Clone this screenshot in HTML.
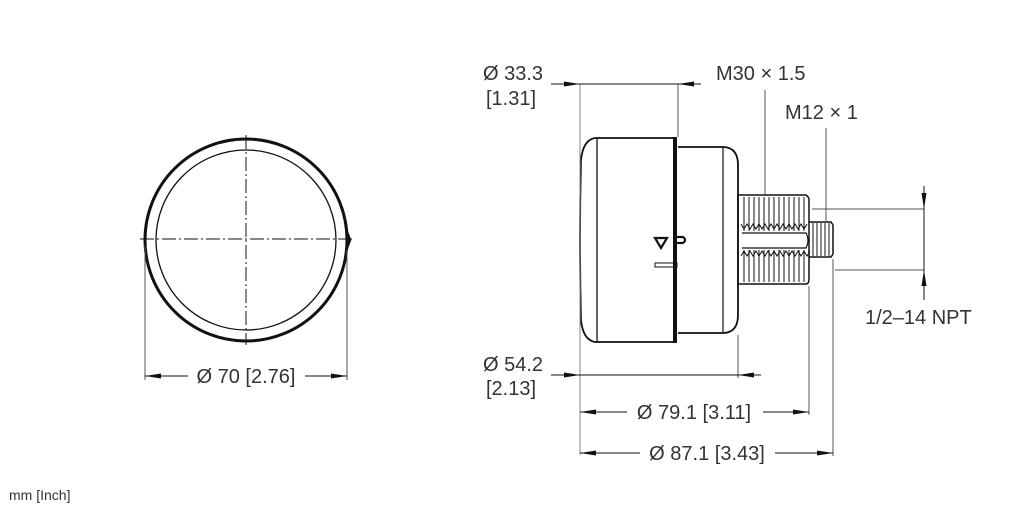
<!DOCTYPE html>
<html><head><style>body{margin:0;background:#fff}svg{display:block}text{font-family:"Liberation Sans",sans-serif;fill:#333}</style></head><body>
<svg width="1022" height="511" viewBox="0 0 1022 511" xmlns="http://www.w3.org/2000/svg">
<defs><marker id="a" markerWidth="16" markerHeight="8" refX="16" refY="4" orient="auto" markerUnits="userSpaceOnUse"><path d="M0,1.5 L16,4 L0,6.5 Z" fill="#111"/></marker></defs>
<g fill="none" stroke="#111">
<!-- front view -->
<circle cx="246" cy="240" r="101" stroke-width="3"/>
<circle cx="246" cy="240" r="90" stroke-width="1.3"/>
<line x1="140" y1="239" x2="352" y2="239" stroke-width="1" stroke-dasharray="14,3,2,3"/>
<line x1="246" y1="135" x2="246" y2="345" stroke-width="1" stroke-dasharray="14,3,2,3"/>
<path d="M347,232 l3,8 -3,8" stroke-width="2.5"/>
<line x1="145" y1="245" x2="145" y2="380" stroke="#555"/>
<line x1="347" y1="250" x2="347" y2="380" stroke="#555"/>
<line x1="188" y1="376" x2="145" y2="376" marker-end="url(#a)" stroke-width="1"/>
<line x1="305" y1="376" x2="347" y2="376" marker-end="url(#a)" stroke-width="1"/>
<!-- side view -->
<path d="M676,138 L595,138 Q583,140 581,160 Q579,240 581,320 Q583,340 595,342 L676,342" stroke-width="1.8"/>
<line x1="597" y1="138" x2="597" y2="342" stroke-width="1.3"/>
<line x1="675" y1="137" x2="675" y2="343" stroke-width="4"/>
<path d="M678,147 L724,147 Q738,148 738,165 L738,315 Q738,332 724,333 L678,333" stroke-width="1.8"/>
<line x1="723" y1="147" x2="723" y2="333" stroke-width="1.2"/>
<path d="M738,195 L806,195 Q809,197 809,200 L809,279 Q809,284 806,284 L738,284 Z" stroke-width="1.5"/>
<path d="M742,233 L806,233 Q810,240 806,248 L742,248" stroke-width="1.2"/>
<g stroke-width="1">
<path d="M744,197 V231 M749,197 V231 M754,197 V231 M759,197 V231 M764,197 V231 M769,197 V231 M774,197 V231 M779,197 V231 M784,197 V231 M789,197 V231 M794,197 V231 M799,197 V231 M804,197 V231"/>
<path d="M744,250 V282 M749,250 V282 M754,250 V282 M759,250 V282 M764,250 V282 M769,250 V282 M774,250 V282 M779,250 V282 M784,250 V282 M789,250 V282 M794,250 V282 M799,250 V282 M804,250 V282"/>
<path d="M741,224 l3,5 3,-5 3,5 3,-5 3,5 3,-5 3,5 3,-5 3,5 3,-5 3,5 3,-5 3,5 3,-5 3,5 3,-5 3,5 3,-5 3,5 3,-5 3,5 3,-5 M741,256 l3,-5 3,5 3,-5 3,5 3,-5 3,5 3,-5 3,5 3,-5 3,5 3,-5 3,5 3,-5 3,5 3,-5 3,5 3,-5 3,5 3,-5 3,5 3,-5 3,5 3,-5"/>
</g>
<path d="M809,222 L831,222 L833,225 L833,254 L831,257 L809,257" stroke-width="1.5"/>
<path d="M813,223 V256 M817,223 V256 M821,223 V256 M825,223 V256 M829,223 V256" stroke-width="1"/>
<path d="M655,238 L667,238 L661,248 Z" stroke-width="2.2"/>
<rect x="675" y="237" width="10" height="6" rx="3" stroke-width="2.2"/>
<rect x="655" y="263" width="22" height="4" stroke-width="1"/>
<!-- dims -->
<line x1="580" y1="84" x2="580" y2="455" stroke="#888"/>
<line x1="678" y1="84" x2="678" y2="137" stroke="#555"/>
<line x1="551" y1="84" x2="580" y2="84" marker-end="url(#a)"/>
<line x1="580" y1="84" x2="678" y2="84"/>
<line x1="701" y1="84" x2="678" y2="84" marker-end="url(#a)"/>
<line x1="765" y1="90" x2="765" y2="195" stroke="#555"/>
<line x1="826" y1="128" x2="826" y2="222" stroke="#555"/>
<line x1="812" y1="209" x2="924" y2="209" stroke="#555"/>
<line x1="835" y1="270" x2="924" y2="270" stroke="#555"/>
<line x1="924" y1="186" x2="924" y2="209" marker-end="url(#a)"/>
<line x1="924" y1="209" x2="924" y2="270"/>
<line x1="924" y1="300" x2="924" y2="270" marker-end="url(#a)"/>
<line x1="738" y1="335" x2="738" y2="378" stroke="#555"/>
<line x1="809" y1="286" x2="809" y2="415" stroke="#555"/>
<line x1="833" y1="259" x2="833" y2="456" stroke="#555"/>
<line x1="551" y1="375" x2="580" y2="375" marker-end="url(#a)"/>
<line x1="580" y1="375" x2="738" y2="375"/>
<line x1="761" y1="375" x2="738" y2="375" marker-end="url(#a)"/>
<line x1="627" y1="412" x2="580" y2="412" marker-end="url(#a)"/>
<line x1="763" y1="412" x2="809" y2="412" marker-end="url(#a)"/>
<line x1="640" y1="453" x2="580" y2="453" marker-end="url(#a)"/>
<line x1="775" y1="453" x2="833" y2="453" marker-end="url(#a)"/>
</g>
<g font-size="20">
<text x="246" y="383" text-anchor="middle">Ø 70 [2.76]</text>
<text x="483" y="80">Ø 33.3</text>
<text x="486" y="105">[1.31]</text>
<text x="716" y="80">M30 × 1.5</text>
<text x="785" y="119">M12 × 1</text>
<text x="865" y="324">1/2–14 NPT</text>
<text x="483" y="371">Ø 54.2</text>
<text x="486" y="395">[2.13]</text>
<text x="694" y="419" text-anchor="middle">Ø 79.1 [3.11]</text>
<text x="707" y="460" text-anchor="middle">Ø 87.1 [3.43]</text>
</g>
<text x="9" y="500" font-size="14">mm [Inch]</text>
</svg>
</body></html>
